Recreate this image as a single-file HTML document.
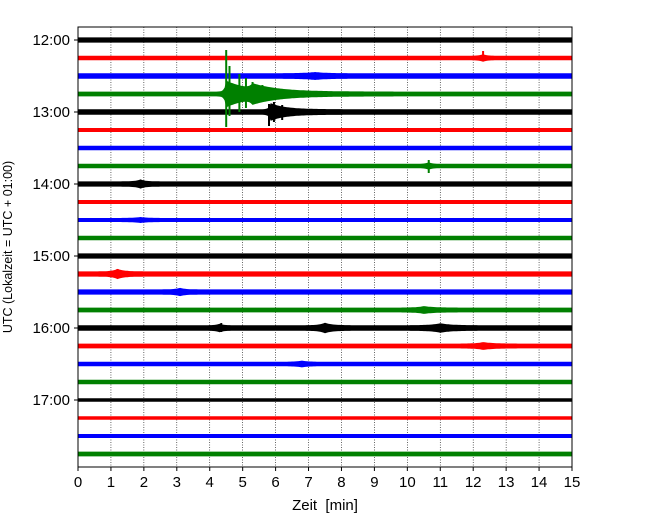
<!DOCTYPE html>
<html><head><meta charset="utf-8">
<style>
body{margin:0;background:#fff;}
svg{display:block;font-family:"Liberation Sans","DejaVu Sans",sans-serif;}
</style></head>
<body>
<svg id="chart" width="650" height="520" viewBox="0 0 650 520" xmlns="http://www.w3.org/2000/svg">
<rect width="650" height="520" fill="#fff"/>
<g id="grid"></g>
<g id="traces"></g>
<rect x="78" y="27" width="494" height="440" fill="none" stroke="#000" stroke-width="1"/>
<g id="axes"></g>
<text x="325" y="510" text-anchor="middle" font-size="15" style="white-space:pre">Zeit  [min]</text>
<text transform="translate(12,247) rotate(-90)" text-anchor="middle" font-size="12.5">UTC (Lokalzeit = UTC + 01:00)</text>
</svg>
<script>
// Data
const hourLabels = ["12:00","13:00","14:00","15:00","16:00","17:00"];
const xTicks = [0,1,2,3,4,5,6,7,8,9,10,11,12,13,14,15];
const colors = ["#000000","#ff0000","#0000ff","#008000"];
// base noise half-amplitude (px) for each 15-min trace
const baseAmp = [2.6,2.3,2.8,2.4, 2.8,2.0,2.2,2.2, 2.6,2.0,2.0,2.2, 2.6,2.6,2.6,2.4, 2.8,2.4,2.2,2.2, 1.8,1.8,2.0,2.4];
// events: trace index, centre minute, peak half-amplitude (px), rise (min), decay (min)
const evTrace = [3, 4, 3, 8, 13, 15, 16, 16, 17, 1, 7, 14, 16, 18, 2, 10];
const evStart = [4.5,5.85,5.3,1.9,1.2,10.5,7.5,4.3,12.3,12.3,10.65,3.1,11.0,6.8,7.2,1.9];
const evPeak  = [11, 6, 5, 2, 2.5, 1.5, 2.5, 1.5, 1.5, 1.5, 1.5, 1.5, 2, 1.2, 1.2, 1];
const evRise  = [0.05,0.05,0.1,0.15,0.15,0.2,0.15,0.1,0.2,0.1,0.1,0.15,0.25,0.2,0.3,0.2];
const evDecay = [0.7, 0.45, 0.9, 0.15, 0.2, 0.3, 0.2, 0.1, 0.3, 0.1, 0.1, 0.15, 0.3, 0.2, 0.3, 0.2];
// spikes: trace, minute, up (px), down (px)
const spTrace = [3,3,3,3,3,3,4,4,4,1,7,16,16,13];
const spTime  = [4.5,4.6,4.9,5.1,5.3,5.6,5.8,5.95,6.2,12.3,10.65,7.5,4.35,1.2];
const spUp    = [44,28,20,16,12,9,8,10,7,7,6,5,5,5];
const spDown  = [33,22,18,14,10,7,14,10,8,3,7,4,4,4];

const X0=78,X1=572,Y0=27,Y1=467,T0=40,DT=18;
const xs = m => X0 + (X1-X0)*m/15;
const ys = i => T0 + i*DT;
const NS="http://www.w3.org/2000/svg";
function mk(tag,parent){const e=document.createElementNS(NS,tag);parent.appendChild(e);return e;}

const grid=document.getElementById('grid');
xTicks.forEach(t=>{ if(t===0||t===15) return;
  const l=mk('line',grid);
  
  
  l.setAttribute('x1',xs(t));l.setAttribute('x2',xs(t));l.setAttribute('y1',Y0);l.setAttribute('y2',Y1);
  l.setAttribute('stroke','#000');l.setAttribute('stroke-width','0.6');l.setAttribute('stroke-dasharray','1,1.5');
});

const tr=document.getElementById('traces');
baseAmp.forEach((b,i)=>{
  const top=[],bot=[];
  for(let k=0;k<=300;k++){
    const t=k*0.05; let a=b;
    evTrace.forEach((ti,j)=>{ if(ti!==i) return; const d=t-evStart[j];
      a+= d>=0 ? evPeak[j]*Math.exp(-d/evDecay[j]) : evPeak[j]*Math.exp(d/evRise[j]); });
    top.push(xs(t).toFixed(1)+','+(ys(i)-a).toFixed(1));
    bot.unshift(xs(t).toFixed(1)+','+(ys(i)+a).toFixed(1));
  }
  const p=mk('polygon',tr);
  
  
  p.setAttribute('points',top.concat(bot).join(' '));
  p.setAttribute('fill',colors[i%4]);
});
spTrace.forEach((i,j)=>{
  const l=mk('line',tr);
  
  
  l.setAttribute('x1',xs(spTime[j]));l.setAttribute('x2',xs(spTime[j]));
  l.setAttribute('y1',ys(i)-spUp[j]);l.setAttribute('y2',ys(i)+spDown[j]);
  l.setAttribute('stroke',colors[i%4]);l.setAttribute('stroke-width','2');
});

const ax=document.getElementById('axes');
xTicks.forEach(t=>{
  const l=mk('line',ax);
  
  
  l.setAttribute('x1',xs(t));l.setAttribute('x2',xs(t));l.setAttribute('y1',Y1);l.setAttribute('y2',Y1+4);
  l.setAttribute('stroke','#000');
  const tx=mk('text',ax);
  
  
  tx.setAttribute('x',xs(t));tx.setAttribute('y',Y1+20);tx.setAttribute('text-anchor','middle');tx.setAttribute('font-size','15');
  tx.textContent=t;
});
hourLabels.forEach((h,k)=>{
  const y=ys(k*4);
  const l=mk('line',ax);
  
  
  l.setAttribute('x1',X0-4);l.setAttribute('x2',X0);l.setAttribute('y1',y);l.setAttribute('y2',y);
  l.setAttribute('stroke','#000');
  const tx=mk('text',ax);
  
  
  tx.setAttribute('x',X0-8);tx.setAttribute('y',y+5);tx.setAttribute('text-anchor','end');tx.setAttribute('font-size','15');
  tx.textContent=h;
});
</script>
</body></html>
